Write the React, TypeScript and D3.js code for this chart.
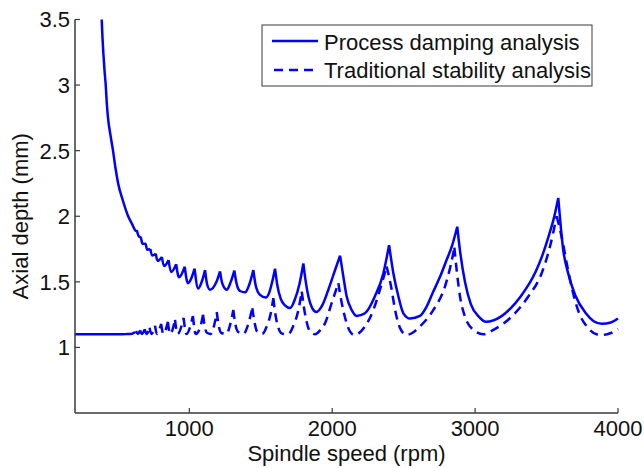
import React from "react";
import * as d3 from "d3";

const xTicks = [1000, 2000, 3000, 4000];
const yTicks = [1, 1.5, 2, 2.5, 3, 3.5];
const seriesNames = ["Process damping analysis", "Traditional stability analysis"];

// Process damping analysis (solid): [spindle speed rpm, axial depth mm]
const processDamping: [number, number][] = [
  [387, 3.5], [392, 3.37], [398, 3.25], [406, 3.12], [415, 3.0], [422, 2.87], [431, 2.75],
  [448, 2.62], [466, 2.5], [483, 2.37], [502, 2.25], [535, 2.12], [572, 2.0], [600, 1.94],
  [625, 1.89], [632, 1.895], [645, 1.85], [661, 1.835], [672, 1.79], [693, 1.79], [705, 1.745],
  [727, 1.75], [740, 1.7], [765, 1.715], [778, 1.66], [808, 1.69], [823, 1.62], [855, 1.665],
  [872, 1.575], [908, 1.635], [928, 1.535], [968, 1.615], [990, 1.49], [1037, 1.6], [1062, 1.45],
  [1090, 1.51], [1110, 1.59], [1125, 1.48], [1145, 1.44], [1190, 1.5], [1215, 1.58], [1230, 1.49],
  [1262, 1.44], [1290, 1.5], [1315, 1.586], [1330, 1.49], [1355, 1.43], [1390, 1.42], [1420, 1.48],
  [1448, 1.59], [1465, 1.47], [1495, 1.4], [1535, 1.38], [1560, 1.42], [1580, 1.5], [1600, 1.6],
  [1615, 1.48], [1640, 1.37], [1670, 1.32], [1705, 1.3], [1740, 1.37], [1770, 1.48], [1798, 1.64],
  [1815, 1.5], [1835, 1.38], [1860, 1.3], [1890, 1.27], [1930, 1.32], [1973, 1.44], [2020, 1.59],
  [2055, 1.7], [2078, 1.54], [2101, 1.39], [2136, 1.286], [2172, 1.24], [2229, 1.26], [2299, 1.39],
  [2358, 1.566], [2398, 1.78], [2428, 1.566], [2463, 1.39], [2498, 1.26], [2545, 1.22], [2614, 1.24],
  [2660, 1.31], [2705, 1.42], [2755, 1.54], [2801, 1.668], [2840, 1.78], [2875, 1.92], [2894, 1.74],
  [2929, 1.5], [2970, 1.33], [3030, 1.23], [3075, 1.195], [3180, 1.235], [3250, 1.3], [3320, 1.39],
  [3425, 1.58], [3470, 1.7], [3518, 1.86], [3550, 1.98], [3582, 2.14], [3617, 1.74], [3650, 1.57],
  [3700, 1.4], [3775, 1.26], [3830, 1.2], [3886, 1.18], [3950, 1.19], [4000, 1.22],
];

// Traditional stability analysis (dashed)
const traditional: [number, number][] = [
  [200, 1.1], [250, 1.1], [300, 1.1], [350, 1.1], [400, 1.1], [450, 1.1], [500, 1.1], [530, 1.101],
  [560, 1.102], [600, 1.105], [627, 1.125],
  [640, 1.103], [656, 1.13], [668, 1.103], [688, 1.14], [700, 1.103], [722, 1.15], [735, 1.103],
  [760, 1.165], [773, 1.103], [803, 1.18], [818, 1.103], [850, 1.195], [866, 1.103], [900, 1.21],
  [918, 1.103], [960, 1.225], [980, 1.103], [1025, 1.24], [1045, 1.103], [1078, 1.16], [1096, 1.25],
  [1108, 1.16], [1125, 1.11], [1150, 1.103], [1172, 1.16], [1192, 1.27], [1205, 1.17], [1225, 1.11],
  [1260, 1.103], [1285, 1.17], [1308, 1.286], [1320, 1.19], [1340, 1.12], [1380, 1.103], [1410, 1.17],
  [1441, 1.3], [1455, 1.2], [1475, 1.12], [1510, 1.103], [1545, 1.17], [1570, 1.26], [1588, 1.375],
  [1600, 1.27], [1620, 1.16], [1650, 1.105], [1690, 1.1], [1730, 1.17], [1760, 1.27], [1787, 1.426],
  [1800, 1.32], [1820, 1.2], [1845, 1.12], [1880, 1.1], [1915, 1.13], [1950, 1.185], [1996, 1.337],
  [2043, 1.49], [2067, 1.337], [2101, 1.185], [2125, 1.12], [2155, 1.095], [2229, 1.159], [2288, 1.286],
  [2334, 1.44], [2381, 1.617], [2412, 1.464], [2440, 1.286], [2475, 1.147], [2521, 1.095], [2560, 1.11],
  [2614, 1.16], [2708, 1.286], [2789, 1.464], [2830, 1.63], [2855, 1.76], [2871, 1.59], [2894, 1.39],
  [2929, 1.235], [2988, 1.134], [3058, 1.1], [3128, 1.134], [3256, 1.235], [3372, 1.388], [3466, 1.566],
  [3524, 1.769], [3571, 2.0], [3610, 1.82], [3645, 1.62], [3680, 1.44], [3725, 1.27], [3790, 1.15],
  [3850, 1.1], [3890, 1.095], [3950, 1.11], [4000, 1.14],
];

const W = 644;
const H = 468;
const M = { left: 75, right: 618, top: 19.5, bottom: 413 };
const BLUE = "#0000ff";
const AXIS = "#3a3a3a";
const FONT = "'Liberation Sans', Arial, sans-serif";

// split a series into pieces at its cusps (local maxima); for the flat start
// every point starts a new piece (dash pattern restarts like the original renderer)
function pieces(data: [number, number][], restartBelow: number): [number, number][][] {
  const out: [number, number][][] = [];
  let cur: [number, number][] = [data[0]];
  for (let i = 1; i < data.length; i++) {
    cur.push(data[i]);
    const isPeak = i < data.length - 1 && data[i][1] > data[i - 1][1] && data[i][1] > data[i + 1][1];
    if (isPeak || data[i][0] < restartBelow) {
      out.push(cur);
      cur = [data[i]];
    }
  }
  if (cur.length > 1) out.push(cur);
  return out;
}

export default function App() {
  const x = d3.scaleLinear().domain([200, 4000]).range([M.left, M.right]);
  const y = d3.scaleLinear().domain([0.5, 3.5]).range([M.bottom, M.top]);
  const line = d3
    .line<[number, number]>()
    .x((d) => x(d[0]))
    .y((d) => y(d[1]))
    .curve(d3.curveMonotoneX);

  const pathOf = (data: [number, number][], restartBelow: number) =>
    pieces(data, restartBelow)
      .map((p) => line(p) || "")
      .join("");

  return (
    <svg
      width={W}
      height={H}
      style={{ position: "absolute", left: 0, top: 0, background: "#fff" }}
      fontFamily={FONT}
    >
      <rect width={W} height={H} fill="#fff" />
      <path
        d={pathOf(processDamping, 0)}
        fill="none"
        stroke={BLUE}
        strokeWidth={2.5}
        strokeLinejoin="round"
      />
      <path
        d={pathOf(traditional, 600)}
        fill="none"
        stroke={BLUE}
        strokeWidth={2.5}
        strokeDasharray="9,6"
        strokeLinejoin="round"
      />
      {/* axes */}
      <line x1={M.left} x2={M.left} y1={M.top} y2={M.bottom} stroke={AXIS} strokeWidth={1.5} />
      <line x1={M.left} x2={M.right} y1={M.bottom} y2={M.bottom} stroke={AXIS} strokeWidth={1.5} />
      {xTicks.map((t) => (
        <g key={"x" + t}>
          <line x1={x(t)} x2={x(t)} y1={M.bottom} y2={M.bottom - 5} stroke={AXIS} strokeWidth={1.2} />
          <text x={x(t)} y={436} textAnchor="middle" fontSize={22} fill="#111">
            {t}
          </text>
        </g>
      ))}
      {yTicks.map((t) => (
        <g key={"y" + t}>
          <line x1={M.left} x2={M.left + 5} y1={y(t)} y2={y(t)} stroke={AXIS} strokeWidth={1.2} />
          <text x={70} y={y(t)} dy="0.36em" textAnchor="end" fontSize={22} fill="#111">
            {t}
          </text>
        </g>
      ))}
      <text x={(M.left + M.right) / 2} y={461} textAnchor="middle" fontSize={22} fill="#111">
        Spindle speed (rpm)
      </text>
      <text
        transform={`translate(${28},${(M.top + M.bottom) / 2}) rotate(-90)`}
        textAnchor="middle"
        fontSize={22}
        fill="#111"
      >
        Axial depth (mm)
      </text>
      {/* legend */}
      <rect x={262} y={25} width={330} height={61} fill="#fff" stroke={AXIS} strokeWidth={1} />
      <line x1={272} x2={318} y1={41} y2={41} stroke={BLUE} strokeWidth={2.5} />
      <line x1={274} x2={318} y1={70} y2={70} stroke={BLUE} strokeWidth={2.5} strokeDasharray="9,6" />
      <text x={324} y={50} fontSize={22} fill="#111">
        {seriesNames[0]}
      </text>
      <text x={324} y={78} fontSize={22} fill="#111">
        {seriesNames[1]}
      </text>
    </svg>
  );
}
